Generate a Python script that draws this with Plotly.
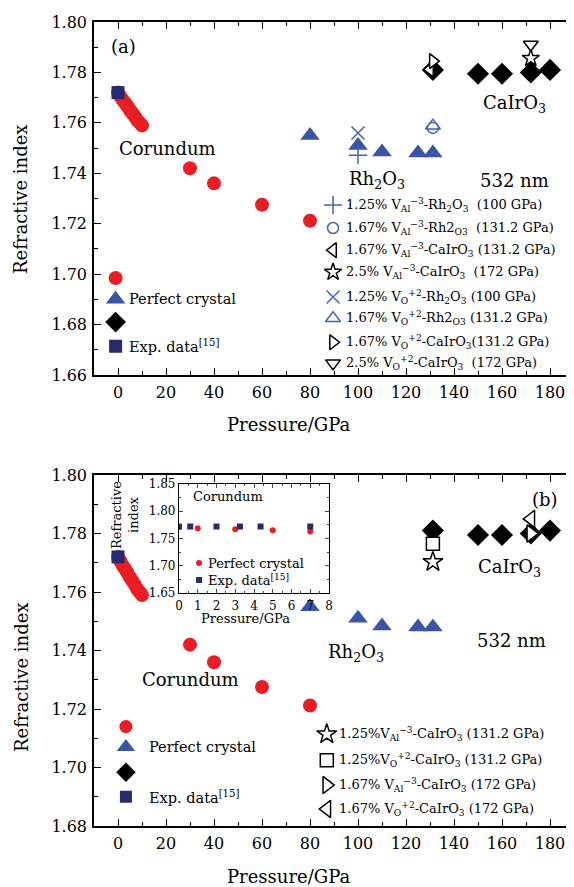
import plotly.graph_objects as go

# the page body has an 8 px margin: the figure starts at (8, 8) in the window
OFF = 8
W, H = 574 - OFF, 887 - OFF

# ---------------- data ----------------
corundum_p = [0, 1, 2, 3, 4, 5, 6, 7, 8, 9, 10, 30, 40, 60, 80]
corundum_n = [1.772, 1.7705, 1.769, 1.7678, 1.7665, 1.765, 1.7638, 1.7625,
              1.761, 1.760, 1.759, 1.742, 1.736, 1.7275, 1.7212]
rh2o3_p = [80, 100, 110, 125, 131.2]
rh2o3_n = [1.755, 1.751, 1.7484, 1.748, 1.748]
cairo3_p = [131.2, 150, 160, 172, 180]
cairo3_n = [1.781, 1.7795, 1.7795, 1.780, 1.781]
exp_p = [0]
exp_n = [1.772]

# panel (a) defects
a_labels = [
    "1.25% V<sub>Al</sub><sup>−3</sup>-Rh<sub>2</sub>O<sub>3</sub>  (100 GPa)",
    "1.67% V<sub>Al</sub><sup>−3</sup>-Rh2<sub>O3</sub>  (131.2 GPa)",
    "1.67% V<sub>Al</sub><sup>−3</sup>-CaIrO<sub>3</sub> (131.2 GPa)",
    "2.5% V<sub>Al</sub><sup>−3</sup>-CaIrO<sub>3</sub>  (172 GPa)",
    "1.25% V<sub>O</sub><sup>+2</sup>-Rh<sub>2</sub>O<sub>3</sub> (100 GPa)",
    "1.67% V<sub>O</sub><sup>+2</sup>-Rh2<sub>O3</sub> (131.2 GPa)",
    "1.67% V<sub>O</sub><sup>+2</sup>-CaIrO<sub>3</sub>(131.2 GPa)",
    "2.5% V<sub>O</sub><sup>+2</sup>-CaIrO<sub>3</sub>  (172 GPa)",
]
a_p = [100, 131.2, 130, 172, 100, 131.2, 131.2, 172]
a_n = [1.7472, 1.758, 1.7812, 1.7856, 1.756, 1.7589, 1.7845, 1.7911]

# panel (b) defects
b_labels = [
    "1.25%V<sub>Al</sub><sup>−3</sup>-CaIrO<sub>3</sub> (131.2 GPa)",
    "1.25%V<sub>O</sub><sup>+2</sup>-CaIrO<sub>3</sub> (131.2 GPa)",
    "1.67% V<sub>Al</sub><sup>−3</sup>-CaIrO<sub>3</sub> (172 GPa)",
    "1.67% V<sub>O</sub><sup>+2</sup>-CaIrO<sub>3</sub> (172 GPa)",
]
b_p = [131.2, 131.2, 172, 172]
b_n = [1.7703, 1.7765, 1.780, 1.785]

# inset (corundum, low pressure)
inset_perf_p = [0, 1, 3, 5, 7]
inset_perf_n = [1.771, 1.769, 1.767, 1.765, 1.763]
inset_exp_p = [0, 0.6, 2, 3.25, 4.35, 7]
inset_exp_n = [1.772, 1.772, 1.772, 1.772, 1.772, 1.772]

x_ticks = [0, 20, 40, 60, 80, 100, 120, 140, 160, 180]

# ---------------- styles ----------------
RED = "#ec1c24"
BLUE = "#3b55a6"
NAVY = "#262a6e"
LBLUE = "#4563b5"
BLACK = "#000000"
WHITE = "#ffffff"
FONT = "DejaVu Serif"

a_sym = ["cross-thin-open", "circle-open", "triangle-left", "star",
         "x-thin-open", "triangle-up-open", "triangle-right", "triangle-down"]
a_col = [LBLUE, LBLUE, BLACK, BLACK, LBLUE, LBLUE, BLACK, BLACK]
a_fill = [LBLUE, LBLUE, WHITE, WHITE, LBLUE, LBLUE, WHITE, WHITE]
a_size = [13, 11, 13, 13, 13, 13, 13, 13]
b_sym = ["star", "square", "triangle-right", "triangle-left"]
b_size = [15, 13, 15, 15]


def PX(x):
    return (x - OFF) / W


def PY(y):
    return 1 - (y - OFF) / H


fig = go.Figure()


def add_main(xa, ya):
    fig.add_trace(go.Scatter(x=corundum_p, y=corundum_n, mode="markers", xaxis=xa, yaxis=ya,
                             marker=dict(symbol="circle", size=14, color=RED), showlegend=False))
    fig.add_trace(go.Scatter(x=rh2o3_p, y=rh2o3_n, mode="markers", xaxis=xa, yaxis=ya,
                             marker=dict(symbol="triangle-up", size=17, color=BLUE), showlegend=False))
    fig.add_trace(go.Scatter(x=cairo3_p, y=cairo3_n, mode="markers", xaxis=xa, yaxis=ya,
                             marker=dict(symbol="diamond", size=17, color=BLACK), showlegend=False))
    fig.add_trace(go.Scatter(x=exp_p, y=exp_n, mode="markers", xaxis=xa, yaxis=ya,
                             marker=dict(symbol="square", size=13, color=NAVY), showlegend=False))


# ---- panel (a)
add_main("x", "y")
for i in range(len(a_p)):
    fig.add_trace(go.Scatter(x=[a_p[i]], y=[a_n[i]], mode="markers", xaxis="x", yaxis="y",
                             marker=dict(symbol=a_sym[i], size=a_size[i], color=a_fill[i],
                                         line=dict(width=1.5, color=a_col[i])),
                             showlegend=False))

# ---- panel (b)
add_main("x2", "y2")
for i in range(len(b_p)):
    fig.add_trace(go.Scatter(x=[b_p[i]], y=[b_n[i]], mode="markers", xaxis="x2", yaxis="y2",
                             marker=dict(symbol=b_sym[i], size=b_size[i], color=WHITE,
                                         line=dict(width=1.5, color=BLACK)),
                             showlegend=False))

# ---- inset
fig.add_trace(go.Scatter(x=inset_perf_p, y=inset_perf_n, mode="markers", xaxis="x3", yaxis="y3",
                         marker=dict(symbol="circle", size=6, color=RED), showlegend=False))
fig.add_trace(go.Scatter(x=inset_exp_p, y=inset_exp_n, mode="markers", xaxis="x3", yaxis="y3",
                         marker=dict(symbol="square", size=6, color=NAVY), showlegend=False))

# ---------------- keys drawn inside the plots ----------------
A_KEY_X, A_TXT_X = 89.6, 94.2
A_KEY_Y = [1.7274, 1.7183, 1.7095, 1.7008, 1.6909, 1.6825, 1.673, 1.6647]
for i in range(8):
    fig.add_trace(go.Scatter(x=[A_KEY_X], y=[A_KEY_Y[i]], mode="markers", xaxis="x", yaxis="y",
                             marker=dict(symbol=a_sym[i], size=a_size[i], color=a_fill[i],
                                         line=dict(width=1.5, color=a_col[i])),
                             showlegend=False))
    fig.add_annotation(x=A_TXT_X, y=A_KEY_Y[i], xref="x", yref="y", text=a_labels[i],
                       showarrow=False, xanchor="left", yanchor="middle",
                       font=dict(family=FONT, size=13, color=BLACK))

L_A_X = -1
L_A_Y = [1.6985, 1.690, 1.681, 1.6714]
L_SYM = ["circle", "triangle-up", "diamond", "square"]
L_COL = [RED, BLUE, BLACK, NAVY]
L_SIZE = [14, 17, 16, 13]
for i in range(4):
    fig.add_trace(go.Scatter(x=[L_A_X], y=[L_A_Y[i]], mode="markers", xaxis="x", yaxis="y",
                             marker=dict(symbol=L_SYM[i], size=L_SIZE[i], color=L_COL[i]),
                             showlegend=False))
fig.add_annotation(x=3.6, y=L_A_Y[1], xref="x", yref="y", text="Perfect crystal",
                   showarrow=False, xanchor="left", font=dict(family=FONT, size=14.5, color=BLACK))
fig.add_annotation(x=3.6, y=L_A_Y[3], xref="x", yref="y", text="Exp. data<sup>[15]</sup>",
                   showarrow=False, xanchor="left", font=dict(family=FONT, size=14.5, color=BLACK))

B_KEY_X, B_TXT_X = 87, 91.3
B_KEY_Y = [1.7114, 1.7025, 1.694, 1.6858]
for i in range(4):
    fig.add_trace(go.Scatter(x=[B_KEY_X], y=[B_KEY_Y[i]], mode="markers", xaxis="x2", yaxis="y2",
                             marker=dict(symbol=b_sym[i], size=b_size[i], color=WHITE,
                                         line=dict(width=1.5, color=BLACK)),
                             showlegend=False))
    fig.add_annotation(x=B_TXT_X, y=B_KEY_Y[i], xref="x2", yref="y2", text=b_labels[i],
                       showarrow=False, xanchor="left", yanchor="middle",
                       font=dict(family=FONT, size=13, color=BLACK))

L_B_X = 3.3
L_B_Y = [1.714, 1.707, 1.6984, 1.690]
for i in range(4):
    fig.add_trace(go.Scatter(x=[L_B_X], y=[L_B_Y[i]], mode="markers", xaxis="x2", yaxis="y2",
                             marker=dict(symbol=L_SYM[i], size=L_SIZE[i] - 1, color=L_COL[i]),
                             showlegend=False))
fig.add_annotation(x=12, y=L_B_Y[1], xref="x2", yref="y2", text="Perfect crystal",
                   showarrow=False, xanchor="left", font=dict(family=FONT, size=14.5, color=BLACK))
fig.add_annotation(x=12, y=L_B_Y[3], xref="x2", yref="y2", text="Exp. data<sup>[15]</sup>",
                   showarrow=False, xanchor="left", font=dict(family=FONT, size=14.5, color=BLACK))

fig.add_trace(go.Scatter(x=[1.07], y=[1.705], mode="markers", xaxis="x3", yaxis="y3",
                         marker=dict(symbol="circle", size=6, color=RED), showlegend=False))
fig.add_trace(go.Scatter(x=[1.07], y=[1.6738], mode="markers", xaxis="x3", yaxis="y3",
                         marker=dict(symbol="square", size=6, color=NAVY), showlegend=False))
fig.add_annotation(x=1.45, y=1.705, xref="x3", yref="y3", text="Perfect crystal",
                   showarrow=False, xanchor="left", font=dict(family=FONT, size=13, color=BLACK))
fig.add_annotation(x=1.45, y=1.6738, xref="x3", yref="y3", text="Exp. data<sup>[15]</sup>",
                   showarrow=False, xanchor="left", font=dict(family=FONT, size=13, color=BLACK))


# ---------------- text labels ----------------
def lab(x, y, t, ax, size=18):
    fig.add_annotation(x=x, y=y, xref="x" + ax, yref="y" + ax, text=t, showarrow=False,
                       font=dict(family=FONT, size=size, color=BLACK))


lab(2.1, 1.7901, "(a)", "")
lab(20.8, 1.750, "Corundum", "")
lab(108, 1.7373, "Rh<sub>2</sub>O<sub>3</sub>", "")
lab(165.4, 1.7373, "532 nm", "")
lab(165.4, 1.7675, "CaIrO<sub>3</sub>", "")

lab(178, 1.7915, "(b)", "2")
lab(163, 1.7683, "CaIrO<sub>3</sub>", "2")
lab(99, 1.7393, "Rh<sub>2</sub>O<sub>3</sub>", "2")
lab(164, 1.7434, "532 nm", "2")
lab(30.4, 1.7301, "Corundum", "2")
lab(2.6, 1.827, "Corundum", "3", size=13)


def pa(x, y, t, size=18, angle=0):
    fig.add_annotation(x=PX(x), y=PY(y), xref="paper", yref="paper", text=t,
                       showarrow=False, textangle=angle, xanchor="center", yanchor="middle",
                       font=dict(family=FONT, size=size, color=BLACK))


pa(21, 199, "Refractive index", angle=-90)
pa(288, 425, "Pressure/GPa")
pa(21, 677, "Refractive index", angle=-90)
pa(288, 876, "Pressure/GPa")
pa(245, 618, "Pressure/GPa", size=13)
pa(125, 515, "Refractive<br>index", size=13, angle=-90)

# ---------------- axes ----------------
dom_x = [PX(94), 1.0]
top_y = [PY(375), PY(22)]
bot_y = [PY(826), PY(475)]

common_x = dict(range=[-10, 190], tickvals=x_ticks, ticks="inside", ticklen=7, tickwidth=1.2,
                showline=True, linecolor=BLACK, linewidth=1.5, mirror="allticks",
                showgrid=False, zeroline=False, tickcolor=BLACK,
                tickfont=dict(family=FONT, size=16, color=BLACK),
                minor=dict(dtick=10, tick0=0, ticks="inside", ticklen=4, tickcolor=BLACK, showgrid=False),
                automargin=False, domain=dom_x, ticklabelstandoff=2)
common_y = dict(ticks="inside", ticklen=7, tickwidth=1.2, showline=True, linecolor=BLACK,
                linewidth=1.5, mirror=False, showgrid=False, zeroline=False, tickcolor=BLACK,
                tickfont=dict(family=FONT, size=16, color=BLACK), tickformat=".2f",
                minor=dict(dtick=0.01, ticks="inside", ticklen=4, tickcolor=BLACK, showgrid=False),
                automargin=False, ticklabelstandoff=2)

fig.update_layout(
    width=W, height=H, margin=dict(l=0, r=0, t=0, b=0),
    paper_bgcolor="white", plot_bgcolor="white", showlegend=False,
    font=dict(family=FONT, color=BLACK),
    xaxis=dict(common_x, anchor="y"),
    yaxis=dict(common_y, range=[1.66, 1.80], dtick=0.02, tick0=1.66, domain=top_y, anchor="x"),
    xaxis2=dict(common_x, anchor="y2"),
    yaxis2=dict(common_y, range=[1.68, 1.80], dtick=0.02, tick0=1.68, domain=bot_y, anchor="x2"),
    xaxis3=dict(range=[0, 8], dtick=1, ticks="inside", ticklen=4, showline=True, linecolor=BLACK,
                linewidth=1.2, mirror="allticks", showgrid=False, zeroline=False,
                tickfont=dict(family=FONT, size=12, color=BLACK), anchor="y3",
                minor=dict(dtick=0.5, ticks="inside", ticklen=2, showgrid=False),
                domain=[PX(179), PX(329)], automargin=False, ticklabelstandoff=1),
    yaxis3=dict(range=[1.65, 1.85], dtick=0.05, ticks="inside", ticklen=4, showline=True,
                linecolor=BLACK, linewidth=1.2, mirror="allticks", showgrid=False, zeroline=False,
                tickformat=".2f", tickfont=dict(family=FONT, size=12, color=BLACK), anchor="x3",
                minor=dict(dtick=0.025, ticks="inside", ticklen=2, showgrid=False),
                domain=[PY(593), PY(484)], automargin=False),
)

fig.write_html("out.html")
